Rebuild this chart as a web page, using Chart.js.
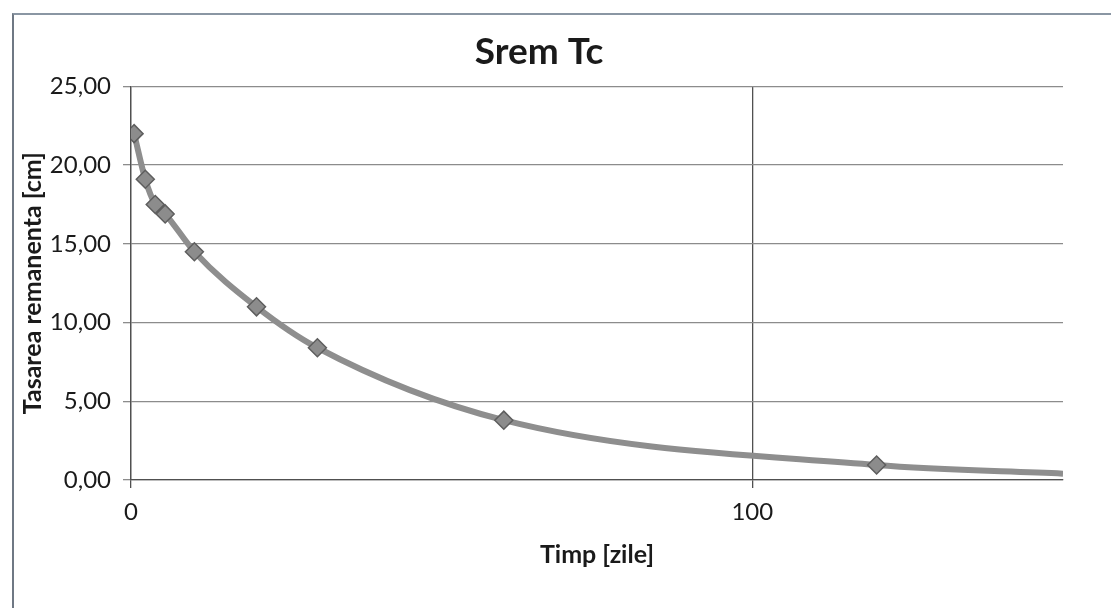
<!DOCTYPE html>
<html lang="ro">
<head>
<meta charset="UTF-8">
<title>Srem Tc</title>
<script src="https://cdn.jsdelivr.net/npm/chart.js@4"></script>
<style>
    html, body { margin: 0; padding: 0; background: #ffffff; overflow: hidden; }
    #cadru {
        position: absolute; left: 12px; top: 13px; width: 1200px; height: 700px;
        border-left: 2px solid #6f7884; border-top: 2px solid #8a96a3;
    }
    #contenedor { position: absolute; left: 0; top: 0; width: 1111px; height: 608px; }
</style>
</head>
<body>
<div id="cadru"></div>
<div id="contenedor"><canvas id="graficSrem" width="1111" height="608"></canvas></div>
<script>
// Datos
const timpZile = [0.5, 2.3, 3.9, 5.5, 10.2, 20.2, 30, 60, 120, 150];
const tasareRemanenta = [22.0, 19.1, 17.5, 16.9, 14.5, 11.0, 8.4, 3.8, 0.95, 0.4];
const marcaje = [9, 9, 9, 9, 9, 9, 9, 9, 9, 0];
const ticksX = [0, 100];
const ticksY = [0, 5, 10, 15, 20, 25];

const FONT = "Lato, 'Open Sans', sans-serif";

document.addEventListener('DOMContentLoaded', function () {
    graficoSrem('graficSrem');
});

const graficoSrem = (canvasId) => {
    const ctx = document.getElementById(canvasId).getContext('2d');
    const puntos = timpZile.map((t, i) => ({ x: t, y: tasareRemanenta[i] }));

    new Chart(ctx, {
        type: 'line',
        data: {
            datasets: [
                {
                    label: 'Srem Tc',
                    data: puntos,
                    borderColor: '#8e8e8e',
                    borderWidth: 6,
                    cubicInterpolationMode: 'monotone',
                    pointStyle: 'rectRot',
                    pointRadius: marcaje,
                    pointBackgroundColor: '#8c8c8c',
                    pointBorderColor: '#5e5e5e',
                    pointBorderWidth: 1.5,
                    fill: false
                }
            ]
        },
        options: {
            responsive: false,
            animation: false,
            layout: { padding: { left: 15, right: 48, top: 0, bottom: 0 } },
            scales: {
                x: {
                    type: 'linear',
                    min: 0,
                    max: 150,
                    afterBuildTicks: (axis) => {
                        axis.ticks = ticksX.map(v => ({ value: v }));
                    },
                    afterFit: (scale) => { scale.height = 128; },
                    grid: {
                        color: '#505050',
                        lineWidth: 1.3,
                        tickLength: 8,
                        drawTicks: true
                    },
                    border: { display: true, color: '#505050', width: 1.3 },
                    ticks: {
                        padding: 10,
                        color: '#1a1a1a',
                        font: { family: FONT, size: 24 },
                        maxRotation: 0
                    },
                    title: {
                        display: true,
                        text: 'Timp [zile]',
                        color: '#1a1a1a',
                        font: { family: FONT, size: 25, weight: 'bold' },
                        padding: { top: 8, bottom: 38 }
                    }
                },
                y: {
                    min: 0,
                    max: 25,
                    afterBuildTicks: (axis) => {
                        axis.ticks = ticksY.map(v => ({ value: v }));
                    },
                    afterFit: (scale) => { scale.width = 116; },
                    grid: {
                        color: '#8c8c8c',
                        lineWidth: 1.3,
                        tickLength: 8
                    },
                    border: { display: true, color: '#505050', width: 1.3 },
                    ticks: {
                        padding: 12,
                        color: '#1a1a1a',
                        font: { family: FONT, size: 24 },
                        callback: function (value) {
                            return value.toFixed(2).replace('.', ',');
                        }
                    },
                    title: {
                        display: true,
                        text: 'Tasarea remanenta [cm]',
                        color: '#1a1a1a',
                        font: { family: FONT, size: 25, weight: 'bold' },
                        padding: { top: 3, bottom: 0 }
                    }
                }
            },
            plugins: {
                legend: { display: false },
                tooltip: { enabled: false },
                title: {
                    display: true,
                    text: 'Srem Tc',
                    color: '#1a1a1a',
                    font: { family: FONT, size: 37, weight: 'bold' },
                    padding: { top: 30, bottom: 12 }
                }
            }
        }
    });
}
</script>
</body>
</html>
